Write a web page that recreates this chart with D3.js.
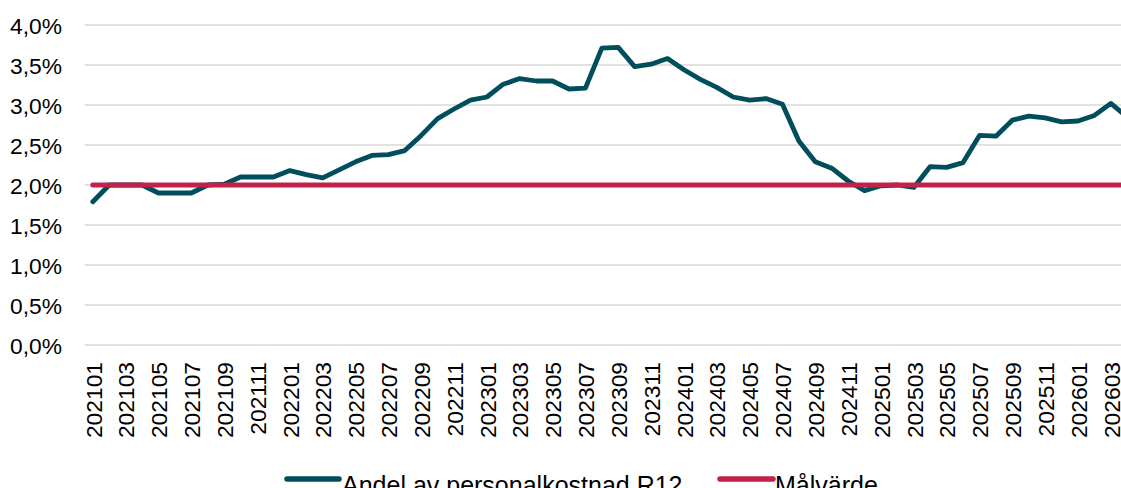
<!DOCTYPE html>
<html>
<head>
<meta charset="utf-8">
<script src="https://cdn.jsdelivr.net/npm/d3@7"></script>
<style>
  html, body { margin: 0; padding: 0; background: #fff; }
  svg { display: block; font-family: "Liberation Sans", Arial, sans-serif; }
</style>
</head>
<body>
<svg id="chart" width="1121" height="488"></svg>
<script>
const categories = [
  "202101","202102","202103","202104","202105","202106","202107","202108","202109","202110","202111","202112",
  "202201","202202","202203","202204","202205","202206","202207","202208","202209","202210","202211","202212",
  "202301","202302","202303","202304","202305","202306","202307","202308","202309","202310","202311","202312",
  "202401","202402","202403","202404","202405","202406","202407","202408","202409","202410","202411","202412",
  "202501","202502","202503","202504","202505","202506","202507","202508","202509","202510","202511","202512",
  "202601","202602","202603","202604"
];
const andelValues = [
  1.79, 2.00, 2.00, 2.00, 1.90, 1.90, 1.90, 2.00, 2.01, 2.10, 2.10, 2.10,
  2.18, 2.13, 2.09, 2.19, 2.29, 2.37, 2.38, 2.43, 2.62, 2.83, 2.95, 3.06,
  3.10, 3.26, 3.33, 3.30, 3.30, 3.20, 3.21, 3.71, 3.72, 3.48, 3.51, 3.58,
  3.44, 3.32, 3.22, 3.10, 3.06, 3.08, 3.01, 2.55, 2.29, 2.21, 2.05, 1.93,
  1.99, 2.00, 1.97, 2.23, 2.22, 2.28, 2.62, 2.61, 2.81, 2.86, 2.84, 2.79,
  2.80, 2.87, 3.02, 2.85
];
const malvardeValues = categories.map(() => 2.0);
const yTicks = [0, 0.5, 1.0, 1.5, 2.0, 2.5, 3.0, 3.5, 4.0];
const xTickLabels = categories.filter((c, i) => i % 2 === 0);
const seriesNames = ["Andel av personalkostnad R12", "Målvärde"];
const seriesColors = ["#004d5c", "#c0224a"];

const svg = d3.select("#chart");
const left = 84.6, step = 16.42;
const x = d3.scalePoint().domain(categories)
  .range([left, left + step * categories.length]).padding(0.5);
const y = d3.scaleLinear().domain([0, 4]).range([345, 25]);

const locale = d3.formatLocale({decimal: ",", thousands: " ", grouping: [3], currency: ["", ""]});
const fmt = v => locale.format(".1f")(v) + "%";

// gridlines
svg.append("g").selectAll("line").data(yTicks).join("line")
  .attr("x1", left).attr("x2", 1121)
  .attr("y1", d => y(d)).attr("y2", d => y(d))
  .attr("stroke", "#d9d9d9").attr("stroke-width", 1.5);

// y axis labels
const yAxis = d3.axisLeft(y).tickValues(yTicks).tickFormat(fmt).tickSize(0).tickPadding(0);
const yg = svg.append("g").attr("transform", "translate(62,0)").call(yAxis);
yg.select(".domain").remove();
yg.selectAll("text").attr("font-size", "22.8px").attr("fill", "#000")
  .attr("font-family", "Liberation Sans, Arial, sans-serif").attr("dy", "0.36em");

// x axis labels
const xAxis = d3.axisBottom(x).tickValues(xTickLabels).tickSize(0).tickPadding(0);
const xg = svg.append("g").attr("transform", "translate(0,345)").call(xAxis);
xg.select(".domain").remove();
xg.selectAll("text")
  .attr("font-size", "22.8px").attr("fill", "#000")
  .attr("font-family", "Liberation Sans, Arial, sans-serif")
  .attr("transform", "rotate(-90)")
  .attr("text-anchor", "end")
  .attr("x", -17).attr("y", 0).attr("dy", "0.36em");

// lines
const line = d3.line().x((d, i) => x(categories[i])).y(d => y(d));
svg.append("path").datum(andelValues)
  .attr("d", line).attr("fill", "none")
  .attr("stroke", seriesColors[0]).attr("stroke-width", 4.8)
  .attr("stroke-linejoin", "round").attr("stroke-linecap", "round");
svg.append("path").datum(malvardeValues)
  .attr("d", line).attr("fill", "none")
  .attr("stroke", seriesColors[1]).attr("stroke-width", 5)
  .attr("stroke-linecap", "round");

// legend
const legendItems = [
  {name: seriesNames[0], color: seriesColors[0], x1: 287, x2: 339, tx: 342},
  {name: seriesNames[1], color: seriesColors[1], x1: 720, x2: 773, tx: 775}
];
const lg = svg.append("g");
legendItems.forEach(it => {
  lg.append("line").attr("x1", it.x1).attr("x2", it.x2).attr("y1", 479).attr("y2", 479)
    .attr("stroke", it.color).attr("stroke-width", 5.5).attr("stroke-linecap", "round");
  lg.append("text").attr("x", it.tx).attr("y", 494).attr("font-size", "25px")
    .attr("fill", "#000").text(it.name);
});
</script>
</body>
</html>
